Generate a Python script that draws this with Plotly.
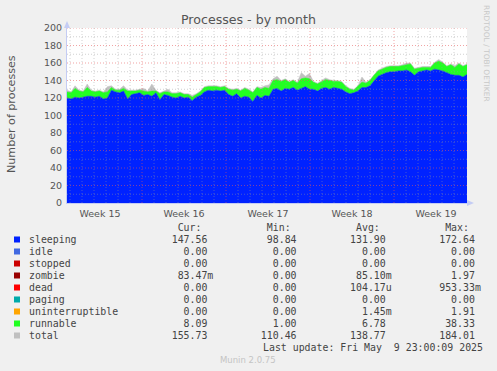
import pandas as pd
import plotly.graph_objects as go

# ---------------- data ----------------
start = "2025-04-06 18:00"
end = "2025-05-10 02:00"

sleeping = [120, 119, 121, 120, 121, 122, 122, 121, 122, 119,
            120, 129, 127, 126, 128, 119, 124, 125, 126, 123,
            124, 122, 126, 118, 124, 123, 121, 120, 122, 120,
            121, 117, 121, 123, 127, 129, 128, 129, 128, 129,
            124, 122, 125, 120, 122, 121, 116, 123, 120, 123,
            122, 130, 131, 128, 131, 130, 132, 129, 131, 133,
            130, 130, 128, 131, 132, 130, 132, 131, 130, 127,
            125, 126, 128, 132, 132, 134, 139, 145, 147, 149,
            150, 150, 151, 151, 152, 150, 146, 150, 151, 152,
            151, 153, 152, 151, 149, 147, 146, 146, 144, 147]

runnable = [7, 7, 10, 8, 6, 10, 6, 6, 6, 7,
            7, 3, 2, 3, 3, 9, 4, 3, 3, 5,
            3, 6, 2, 7, 3, 4, 4, 5, 4, 4,
            3, 4, 3, 4, 5, 4, 5, 4, 4, 4,
            6, 7, 5, 8, 9, 8, 10, 9, 10, 9,
            9, 10, 10, 11, 10, 8, 8, 8, 11, 10,
            12, 8, 8, 8, 9, 10, 7, 8, 8, 6,
            5, 3, 5, 6, 5, 6, 7, 6, 6, 6,
            6, 6, 5, 6, 6, 9, 7, 4, 4, 3,
            4, 7, 10, 9, 7, 11, 9, 13, 12, 11]

total = [129, 127, 134, 129, 128, 136, 129, 128, 129, 127,
         133, 134, 130, 130, 134, 129, 129, 129, 130, 131,
         128, 136, 129, 126, 128, 130, 126, 126, 127, 125,
         125, 123, 125, 128, 133, 134, 134, 134, 133, 134,
         131, 130, 131, 129, 132, 130, 127, 133, 132, 134,
         135, 142, 145, 140, 142, 139, 141, 138, 149, 145,
         148, 139, 137, 140, 143, 141, 140, 140, 139, 134,
         131, 130, 134, 144, 138, 141, 147, 152, 154, 156,
         157, 157, 157, 158, 160, 160, 154, 155, 156, 156,
         156, 161, 164, 161, 157, 159, 157, 160, 157, 159]

week_labels = ["Week 15", "Week 16", "Week 17", "Week 18", "Week 19"]
week_centers = ["2025-04-09 12:00", "2025-04-16 12:00", "2025-04-23 12:00",
                "2025-04-30 12:00", "2025-05-07 12:00"]
y_ticks = [0, 20, 40, 60, 80, 100, 120, 140, 160, 180, 200]

legend_names = ["sleeping", "idle", "stopped", "zombie", "dead", "paging",
                "uninterruptible", "runnable", "total"]
legend_colors = ["#0022ff", "#4169e1", "#cc0000", "#990000", "#ff0000",
                 "#00aaaa", "#ffa500", "#22ff22", "#c0c0c0"]
cur_vals = ["147.56", "0.00", "0.00", "83.47m", "0.00", "0.00", "0.00", "8.09", "155.73"]
min_vals = ["98.84", "0.00", "0.00", "0.00", "0.00", "0.00", "0.00", "1.00", "110.46"]
avg_vals = ["131.90", "0.00", "0.00", "85.10m", "104.17u", "0.00", "1.45m", "6.78", "138.77"]
max_vals = ["172.64", "0.00", "0.00", "1.97", "953.33m", "0.00", "1.91", "38.33", "184.01"]
last_update = "Last update: Fri May  9 23:00:09 2025"

times = pd.date_range(start, end, periods=len(sleeping))

# ---------------- geometry helpers ----------------
W, H = 497, 371
L, R, T, B = 67, 30, 28, 168
PW, PH = W - L - R, H - T - B


def px(x):
    return (x - L) / PW


def py(y):
    return (T + PH - y) / PH


NB = "\u00a0"

fig = go.Figure()

fig.add_trace(go.Scatter(x=times, y=total, mode="lines", fill="tozeroy",
                         line=dict(color="#c0c0c0", width=0.5),
                         fillcolor="#c0c0c0", name="total", hoverinfo="skip"))
fig.add_trace(go.Scatter(x=times, y=sleeping, mode="lines", stackgroup="s",
                         line=dict(color="#0022ff", width=0.5),
                         fillcolor="#0022ff", name="sleeping"))
fig.add_trace(go.Scatter(x=times, y=runnable, mode="lines", stackgroup="s",
                         line=dict(color="#22ff22", width=0.5),
                         fillcolor="#22ff22", name="runnable"))

RED = "rgba(230,90,90,0.55)"
GRAY = "rgba(150,150,150,0.45)"
shapes = []
# horizontal grid lines (above traces, like rrdtool)
for v in range(10, 201, 10):
    shapes.append(dict(type="line", xref="paper", yref="y", x0=0, x1=1, y0=v, y1=v,
                       layer="above",
                       line=dict(color=RED if v % 20 == 0 else GRAY, width=1, dash="1px,2px")))
# vertical grid lines: days, weeks (Sundays) in red
for d in pd.date_range("2025-04-07", "2025-05-09", freq="D"):
    shapes.append(dict(type="line", xref="x", yref="paper", x0=d, x1=d, y0=0, y1=1,
                       layer="above",
                       line=dict(color=RED if d.dayofweek == 6 else GRAY, width=1, dash="1px,2px")))
# axis arrows
shapes.append(dict(type="path", xref="paper", yref="paper",
                   path=f"M {px(64)} {py(28)} L {px(70)} {py(28)} L {px(67)} {py(21)} Z",
                   fillcolor="#c4ccf4", line=dict(width=0)))
shapes.append(dict(type="path", xref="paper", yref="paper",
                   path=f"M {px(467)} {py(200)} L {px(467)} {py(206)} L {px(474)} {py(203)} Z",
                   fillcolor="#c4ccf4", line=dict(width=0)))

annotations = []
mono = dict(family="DejaVu Sans Mono", size=9.9, color="#444")


def field(v):
    s = v if v[-1] in "mu" else v + " "
    return s.rjust(15)


header = " " * 16 + "".join(h.rjust(13) + "  " for h in ["Cur:", "Min:", "Avg:", "Max:"])
annotations.append(dict(x=px(26.7), y=py(227), xref="paper", yref="paper",
                        text=header.replace(" ", NB), showarrow=False,
                        xanchor="left", yanchor="middle", font=mono))
for i, name in enumerate(legend_names):
    yc = 239.5 + 12 * i
    row = name.ljust(16) + field(cur_vals[i]) + field(min_vals[i]) + field(avg_vals[i]) + field(max_vals[i])
    annotations.append(dict(x=px(26.7), y=py(yc), xref="paper", yref="paper",
                            text=row.replace(" ", NB), showarrow=False,
                            xanchor="left", yanchor="middle", font=mono))
    shapes.append(dict(type="rect", xref="paper", yref="paper",
                       x0=px(14), x1=px(20), y0=py(yc + 3), y1=py(yc - 3),
                       fillcolor=legend_colors[i], line=dict(width=0)))

annotations.append(dict(x=px(485), y=py(347.7), xref="paper", yref="paper",
                        text=last_update.replace(" ", NB), showarrow=False,
                        xanchor="right", yanchor="middle", font=mono))
annotations.append(dict(x=px(248), y=py(360), xref="paper", yref="paper",
                        text="Munin 2.0.75", showarrow=False,
                        xanchor="center", yanchor="middle",
                        font=dict(family="DejaVu Sans", size=8.5, color="#c4c4c4")))
annotations.append(dict(x=px(248.5), y=py(19), xref="paper", yref="paper",
                        text="Processes - by month", showarrow=False,
                        xanchor="center", yanchor="middle",
                        font=dict(family="DejaVu Sans", size=12.6, color="#555")))
annotations.append(dict(x=px(11), y=py(114), xref="paper", yref="paper",
                        text="Number of processes", showarrow=False, textangle=-90,
                        xanchor="center", yanchor="middle",
                        font=dict(family="DejaVu Sans", size=11.1, color="#555")))
annotations.append(dict(x=px(487), y=py(53), xref="paper", yref="paper",
                        text="RRDTOOL / TOBI OETIKER", showarrow=False, textangle=90,
                        xanchor="center", yanchor="middle",
                        font=dict(family="DejaVu Sans", size=7.5, color="#c8c8c8")))

fig.update_layout(
    width=W, height=H,
    margin=dict(l=L, r=R, t=T, b=B, pad=0),
    paper_bgcolor="#f0f0f0", plot_bgcolor="#ffffff",
    showlegend=False,
    shapes=shapes, annotations=annotations,
    xaxis=dict(type="date", range=[start, end], tickvals=week_centers, ticktext=week_labels,
               showgrid=False, zeroline=False, showline=True, linecolor="#c4ccf4",
               ticks="outside", ticklen=2, tickcolor="rgba(0,0,0,0)",
               tickfont=dict(family="DejaVu Sans", size=9.5, color="#555"),
               layer="above traces", fixedrange=True),
    yaxis=dict(range=[0, 200], tickvals=y_ticks, showgrid=False, zeroline=False,
               showline=True, linecolor="#c4ccf4",
               ticks="outside", ticklen=2, tickcolor="rgba(0,0,0,0)",
               tickfont=dict(family="DejaVu Sans", size=9.5, color="#555"),
               layer="above traces", fixedrange=True),
)

fig.write_html("out.html",
               config={"displayModeBar": False, "staticPlot": True},
               post_script="document.body.style.margin='0';document.body.style.background='#f0f0f0';")
